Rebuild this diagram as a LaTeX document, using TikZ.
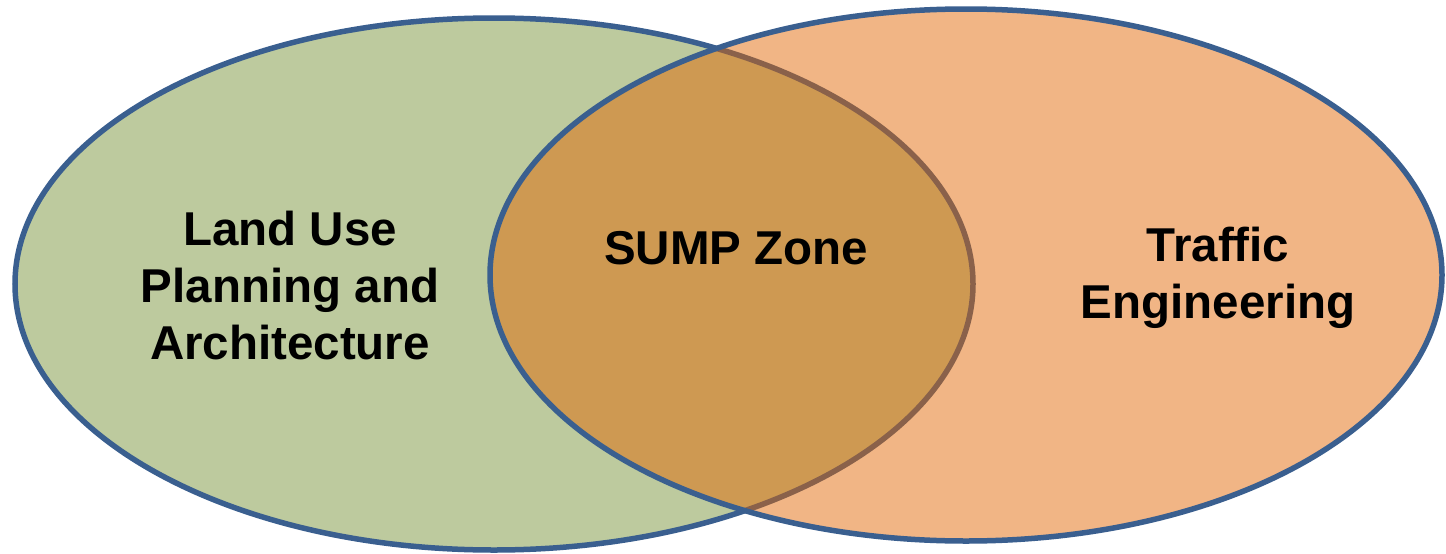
\documentclass[tikz,border=0pt]{standalone}
\usepackage{fontspec}
\setmainfont{Liberation Sans}
\definecolor{lgreen}{RGB}{189,202,158}
\definecolor{rorange}{RGB}{226,101,0}
\definecolor{eblue}{RGB}{58,95,143}
\tikzset{
  setcircle/.style={draw=eblue, line width=5.5pt},
  lbl/.style={align=center, font=\fontsize{47.5}{57}\selectfont\bfseries, text=black, inner sep=0pt}
}
\begin{document}
\begin{tikzpicture}[x=1pt,y=-1pt]
\useasboundingbox (0,0) rectangle (1446,554);
\fill[white] (0,0) rectangle (1446,554);
\path[setcircle, fill=lgreen] (494,284) ellipse [x radius=479, y radius=266];
\path[setcircle, fill=rorange, fill opacity=0.48] (966,275) ellipse [x radius=476, y radius=266];
\node[lbl] (landuse) at (290,286) {Land Use\\Planning and\\Architecture};
\node[lbl] (sump) at (736,248) {SUMP Zone};
\node[lbl] (traffic) at (1218,278) {Traffic\\Engineering};
\end{tikzpicture}
\end{document}
